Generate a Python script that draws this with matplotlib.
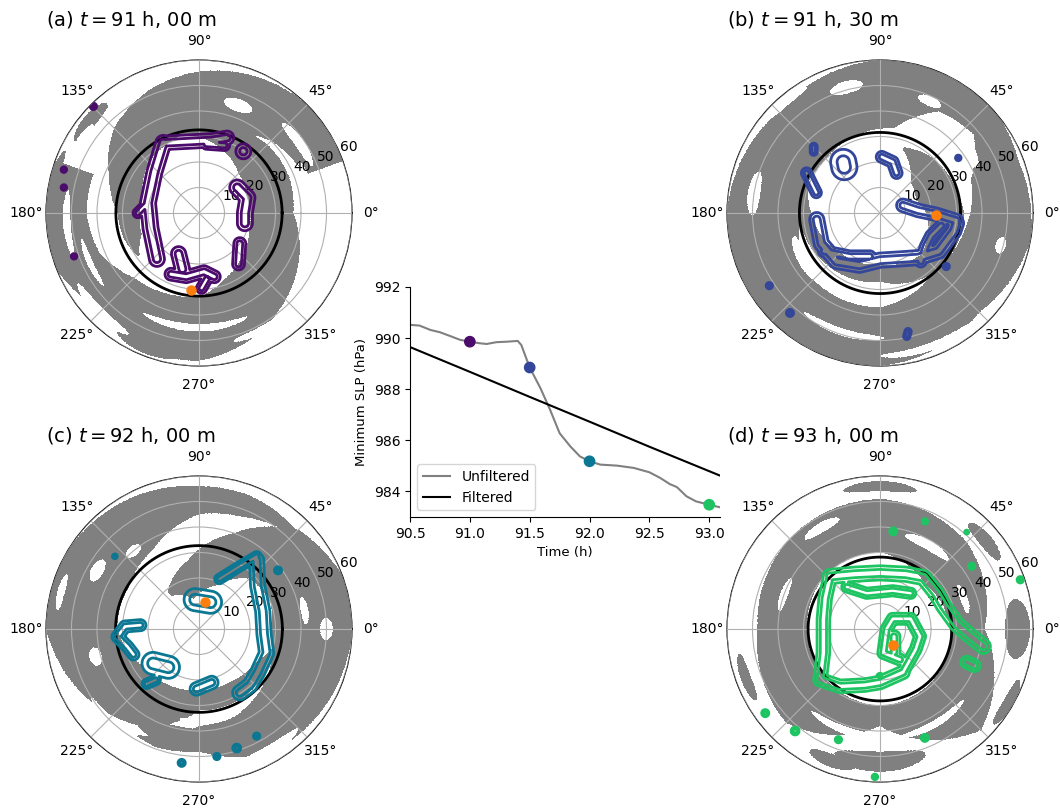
import numpy as np
import matplotlib.pyplot as plt
from matplotlib.colors import ListedColormap

# ---- minimum SLP time series ----
time_h = [90.5, 90.58, 90.67, 90.75, 90.83, 90.92, 91.0, 91.08, 91.14, 91.22, 91.31,
          91.40, 91.43, 91.5, 91.59, 91.67, 91.75, 91.84, 91.92, 92.0, 92.09, 92.23,
          92.37, 92.5, 92.59, 92.67, 92.73, 92.81, 92.89, 93.0, 93.09]
slp_unfiltered = [990.52, 990.49, 990.32, 990.23, 990.09, 989.93, 989.86, 989.80, 989.77,
                  989.84, 989.86, 989.89, 989.73, 988.85, 988.04, 987.20, 986.28, 985.76,
                  985.37, 985.18, 985.05, 985.01, 984.92, 984.75, 984.53, 984.29, 984.17,
                  983.81, 983.61, 983.48, 983.38]
time_filt = [90.5, 91.0, 91.5, 92.0, 92.5, 93.09]
slp_filtered = [989.65, 988.68, 987.70, 986.73, 985.75, 984.62]

snap_times = [91.0, 91.5, 92.0, 93.0]
snap_slp = [989.86, 988.85, 985.18, 983.48]
snap_colors = ['#4b0c6b', '#33469a', '#0b7793', '#1ec462']
titles = ['(a) $t = 91$ h, 00 m', '(b) $t = 91$ h, 30 m',
          '(c) $t = 92$ h, 00 m', '(d) $t = 93$ h, 00 m']

# centre of minimum pressure (azimuth deg, radius km)
centre_az = [263.7, 358.3, 78.5, 310.4]
centre_r = [30.2, 21.8, 11.0, 8.0]
# radius of the black reference circle (km)
circle_r = [32.6, 31.6, 32.7, 28.2]

# ---- gray shaded field: spiral bands (azimuth, inner r, outer r) ----
bands_a = [
    ([20, 45, 67, 90, 112, 135, 158, 180, 200, 215],
     [44, 40, 34, 33, 30, 28, 24, 23, 24, 28.5],
     [60, 60, 58, 55.5, 52, 47, 38, 32, 31, 29.5]),
    ([-200, -180, -158, -135, -112, -90, -70, -45, -20, 0, 20, 45, 67, 100],
     [44, 44, 42, 36, 34, 33, 28, 24, 21, 20, 20, 22, 26, 31.5],
     [60, 60, 60, 54, 58, 58, 54, 48, 42, 37, 38, 38, 36, 32.5]),
]
bands_b = [
    ([-200, -180, -135, -90, -45, 0, 20, 45, 70],
     [30, 27, 22, 20, 23, 18, 15, 17, 26.5],
     [31, 32, 29, 27, 32, 33, 31, 30, 27.5]),
    ([-10, 20, 40, 60, 80, 90, 135, 180, 225, 270, 315, 350],
     [34, 38, 48, 46, 34, 33, 30, 31, 37, 37, 31, 34],
     [60, 58, 60, 60, 60, 60, 56, 60, 60, 60, 55, 60]),
]
bands_c = [
    ([-120, -90, -60, -30, 0, 20, 45, 70, 100, 130],
     [48, 38, 36, 32, 28, 30, 28, 18, 12, 17],
     [50, 48, 56, 58, 60, 60, 55, 40, 27, 19]),
    ([40, 70, 90, 120, 150, 180, 210, 240, 270, 300, 330, 345],
     [53, 47, 45, 36, 32, 32, 27, 25, 24, 24, 26, 29.5],
     [54, 56, 56, 58, 60, 60, 52, 44, 32, 32, 31, 30.5]),
]
bands_d = [
    ([0, 45, 90, 135, 180, 225, 270, 315, 360],
     [27.5, 25, 30, 30, 28.5, 29, 30, 29, 27.5],
     [41, 48, 51, 50, 48, 52, 38, 56, 41]),
]

# patches (azimuth deg, radius, arc width deg, radial depth)
gray_spots = [
    [(140, 56, 20, 5), (165, 58, 20, 3), (250, 56, 30, 6)],
    [(0, 30, 10, 4)],
    [(260, 43, 50, 8), (300, 42, 30, 6)],
    [(270, 52, 40, 8), (250, 55, 20, 5), (0, 54, 25, 10), (330, 58, 20, 4),
     (40, 54, 20, 5), (90, 56, 30, 4), (200, 56, 20, 4)],
]
white_spots = [
    [(268, 45, 55, 3), (300, 52, 30, 3), (-5, 53, 30, 3), (70, 45, 15, 5),
     (35, 48, 25, 4), (15, 44, 25, 3), (185, 52, 30, 3), (225, 55, 30, 4),
     (205, 47, 25, 2.5), (150, 54, 20, 4), (320, 56, 25, 3), (110, 58, 40, 4)],
    [(105, 51, 15, 5), (66, 48, 12, 4), (171, 50, 20, 5), (252, 49, 40, 3),
     (290, 56, 40, 3), (45, 42, 40, 7), (215, 35, 40, 5), (262, 34, 40, 4),
     (345, 49, 8, 4), (130, 57, 20, 3), (320, 58, 20, 3)],
    [(150, 46, 12, 5), (195, 42, 10, 5), (232, 50, 40, 3), (278, 36, 40, 3),
     (0, 50, 10, 5), (130, 40, 10, 4), (165, 56, 15, 3), (300, 55, 30, 4),
     (10, 42, 15, 3)],
    [(60, 38, 30, 4), (20, 35, 20, 3), (300, 43, 40, 3), (250, 42, 40, 3),
     (120, 46, 20, 4), (160, 40, 20, 3), (10, 46, 20, 3)],
]

# ---- coloured contours: ridges along (x, y) km traces, with width ----
strokes_a = [
    (1.7, [(-14, 27.5), (-4, 28), (5, 28.5), (11, 29.5)]),
    (1.3, [(3, 27.0), (10, 26.5)]),
    (1.9, [(-14, 27.5), (-17.5, 16), (-20, 4), (-19, -6), (-16.5, -18)]),
    (1.2, [(-20, 4), (-24, 0)]),
    (1.9, [(15, 10), (19, 6), (18, 0), (18, -4)]),
    (1.5, [(16, -12), (15.5, -20)]),
    (1.9, [(17.4, 24.2)]),
    (1.8, [(-8, -16), (-6.5, -22)]),
    (1.5, [(-11, -24), (-5, -25), (2, -23), (6, -25)]),
    (1.3, [(3, -26), (1, -29.5)]),
    (0.8, [(-41.4, 41.8)]), (0.7, [(-53, 17)]), (0.7, [(-53, 10)]), (0.7, [(-49, -17)]),
]
strokes_b = [
    (1.8, [(-24.8, -2.6), (-23, -12), (-17, -19), (-8, -20.5), (0, -18.5), (8, -18),
           (15, -17.5), (23, -15), (29, -7), (30, -4)]),
    (1.4, [(-22, -15), (-12, -17), (-4, -17)]),
    (1.6, [(9, 3), (15, 1), (22, -0.5), (30, -3)]),
    (1.4, [(24, -5), (20, -9), (18, -13), (16, -19)]),
    (3.2, [(-14.4, 20), (-14, 18)]),
    (1.4, [(0.7, 22), (5, 20), (6.5, 15.7)]),
    (1.3, [(-28.8, 15.7), (-25, 8)]),
    (0.9, [(-26, 26), (-26, 24)]),
    (0.7, [(30.7, 21.6)]), (0.8, [(-43.4, -28.5)]), (0.9, [(-35.3, -39.2)]),
    (0.8, [(10.5, -48.4), (11, -46.5)]), (0.8, [(26, -21)]),
]
strokes_c = [
    (2.8, [(-1.5, 11.5), (4.5, 10.5)]),
    (1.8, [(22.6, 27), (23, 17), (25, 7), (25.5, -2), (26.5, -9.4), (23, -17),
           (20, -22), (16, -25)]),
    (1.2, [(8, 19.6), (15, 24), (22.6, 28.5)]),
    (1.4, [(-23, 1.5), (-29, 1), (-32, -3), (-28, -7), (-25.7, -10)]),
    (2.8, [(-18, -13.5), (-12, -15)]),
    (1.2, [(-20.5, -21.5), (-17, -20)]),
    (1.6, [(-1, -23.5), (5, -21)]),
    (0.9, [(31, 23)]), (1.0, [(14.8, -46.7)]), (0.8, [(7, -50)]), (0.8, [(22.6, -42)]),
    (0.9, [(-6.8, -52.5)]), (0.6, [(-33, 28.5)]),
]
strokes_d = [
    (1.8, [(-19.6, 20.6), (-10, 21.5), (0, 22), (10, 21.5), (17, 20.2), (22, 14),
           (25, 8.9), (30, 2), (34, -1.6), (40.5, -6.8)]),
    (1.6, [(-19.6, 20.6), (-21.5, 12), (-22.2, 3.7), (-22.2, -9.4), (-23.5, -19.9),
           (-15.7, -22.5), (-6, -22), (0, -21), (9, -17)]),
    (1.3, [(-13, 16.5), (-5.2, 14), (5, 15), (12, 14)]),
    (1.4, [(9, -17), (14, -8), (15.7, -2.9), (12, 4), (5, 4), (2.6, 0), (1.3, -9.4),
           (7.8, -12)]),
    (1.5, [(5.5, -3), (5.5, -9)]),
    (1.5, [(37, -14.4), (34, -13)]),
    (0.9, [(5.2, 38.3)]), (0.7, [(17.6, 42.2)]), (0.8, [(36, 24.6)]), (0.8, [(55, 19.3)]),
    (0.9, [(-45, -33)]), (1.0, [(-33.3, -40)]), (0.8, [(-16.3, -43.4)]),
    (0.9, [(17.6, -42.7)]), (0.7, [(-2, -58)]), (0.5, [(34, 38)]), (0.8, [(0, -18.6)]),
]

all_bands = [bands_a, bands_b, bands_c, bands_d]
all_strokes = [strokes_a, strokes_b, strokes_c, strokes_d]

# polar grid
theta = np.linspace(0, 2 * np.pi, 1081)
rad = np.linspace(0, 60, 451)
TH, RR = np.meshgrid(theta, rad)
DEG = np.degrees(TH)
XX = RR * np.cos(TH)
YY = RR * np.sin(TH)


def band_field(az, r_in, r_out):
    az = np.asarray(az, float)
    out = np.full(DEG.shape, -1.0)
    for k in (-1, 0, 1):
        d = DEG + 360 * k
        lo = np.interp(d, az, r_in)
        hi = np.interp(d, az, r_out)
        mid = 0.5 * (lo + hi)
        half = np.maximum(0.5 * (hi - lo), 0.05)
        val = 1 - np.abs(RR - mid) / half
        val = np.where((d >= az[0]) & (d <= az[-1]), val, -1)
        out = np.maximum(out, val)
    return out


def spot_field(az0, r0, arc, dr):
    dth = (DEG - az0 + 180) % 360 - 180
    return 1 - (dth / (arc / 2)) ** 2 - ((RR - r0) / (dr / 2)) ** 2


def ridge_field(strokes):
    out = np.zeros(XX.shape)
    for sig, pts in strokes:
        pts = np.asarray(pts, float)
        if len(pts) == 1:
            d2 = (XX - pts[0, 0]) ** 2 + (YY - pts[0, 1]) ** 2
        else:
            d2 = np.full(XX.shape, np.inf)
            for p, q in zip(pts[:-1], pts[1:]):
                v = q - p
                t = ((XX - p[0]) * v[0] + (YY - p[1]) * v[1]) / (v @ v)
                t = np.clip(t, 0, 1)
                d2 = np.minimum(d2, (XX - p[0] - t * v[0]) ** 2 + (YY - p[1] - t * v[1]) ** 2)
        out = np.maximum(out, np.exp(-d2 / (2 * sig ** 2)))
    return out


fig = plt.figure(figsize=(10.6, 8.1), dpi=100)
W, H = 1060, 810
polar_boxes = [(46, 60), (727, 60), (46, 476), (727, 476)]
size = 306
gray_cmap = ListedColormap(['#808080'])

for i in range(4):
    x0, y0 = polar_boxes[i]
    ax = fig.add_axes([x0 / W, 1 - (y0 + size) / H, size / W, size / H], projection='polar')

    gfield = np.full(DEG.shape, -1.0)
    for az, r_in, r_out in all_bands[i]:
        gfield = np.maximum(gfield, band_field(az, r_in, r_out))
    for s in gray_spots[i]:
        gfield = np.maximum(gfield, spot_field(*s))
    for s in white_spots[i]:
        gfield = np.minimum(gfield, -spot_field(*s))
    shade = np.ma.masked_where(gfield <= 0, np.ones(gfield.shape))
    ax.pcolormesh(TH, RR, shade, cmap=gray_cmap, shading='nearest',
                  antialiased=False, edgecolors='none', zorder=1, rasterized=True)

    cfield = ridge_field(all_strokes[i])
    ax.contour(TH, RR, cfield, levels=[0.3, 0.75], colors=[snap_colors[i]],
               linewidths=2.0, zorder=4)

    tt = np.linspace(0, 2 * np.pi, 361)
    ax.plot(tt, np.full(tt.shape, circle_r[i]), color='k', lw=2, zorder=3)
    ax.plot(np.radians(centre_az[i]), centre_r[i], 'o', color='#ff7f0e', ms=6.5, zorder=5)

    ax.set_ylim(0, 60)
    ax.set_yticks([10, 20, 30, 40, 50, 60])
    ax.tick_params(labelsize=10)
    ax.grid(True, color='#b0b0b0', lw=0.8, zorder=2)
    ax.set_axisbelow(False)
    ax.set_title(titles[i], loc='left', fontsize=14, y=1.114, pad=0)

# time series panel
ax_ts = fig.add_axes([410 / W, 1 - 517 / H, 310 / W, 230 / H])
ax_ts.plot(time_h, slp_unfiltered, color='gray', lw=1.5, label='Unfiltered')
ax_ts.plot(time_filt, slp_filtered, color='k', lw=1.5, label='Filtered')
ax_ts.scatter(snap_times, snap_slp, c=snap_colors, s=55, zorder=3)
ax_ts.set_xlim(90.5, 93.09)
ax_ts.set_ylim(983, 992)
ax_ts.set_xticks([90.5, 91.0, 91.5, 92.0, 92.5, 93.0])
ax_ts.set_yticks([984, 986, 988, 990, 992])
ax_ts.tick_params(labelsize=10)
ax_ts.set_xlabel('Time (h)', fontsize=9.5)
ax_ts.set_ylabel('Minimum SLP (hPa)', fontsize=9.5)
ax_ts.spines['top'].set_visible(False)
ax_ts.spines['right'].set_visible(False)
ax_ts.legend(loc='lower left', fontsize=10)

fig.savefig('out.png', dpi=100)
